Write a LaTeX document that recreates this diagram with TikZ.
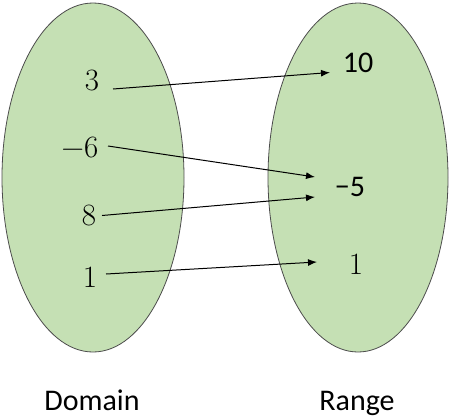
\documentclass[tikz,border=0pt]{standalone}
\usepackage{fontspec}
\newfontfamily\labelfont{Carlito}
\usetikzlibrary{calc,arrows.meta}
\definecolor{setgreen}{HTML}{C5E0B4}

\begin{document}
\begin{tikzpicture}[x=1pt,y=-1pt,
		set/.style={draw=black!70,line width=0.8pt,fill=setgreen},
		elem/.style={inner sep=0pt,font=\rmfamily\fontsize{31}{36}\selectfont},
		selem/.style={inner sep=0pt,font=\labelfont\fontsize{30}{36}\selectfont},
		maparrow/.style={-{Latex[length=9pt,width=7pt]},line width=1pt}]
		\useasboundingbox (0,0) rectangle (450,416);
		
		%the two sets
		\draw[set] (93,177.5) ellipse [x radius=91, y radius=174.5];
		\draw[set] (358,177.5) ellipse [x radius=90, y radius=174.5];
		
		%domain elements
		\node[elem] (d3) at (92,80.5) {3};
		\node[elem] (dm6) at (80,147) {−6};
		\node[elem] (d8) at (89,215.5) {8};
		\node[elem] (d1) at (90,277) {1};
		
		%range elements
		\node[selem] (r10) at (358,62.5) {10};
		\node[selem] (rm5) at (350,187) {−5};
		\node[elem] (r1) at (356,264) {1};
		
		%mapping
		\draw[maparrow] ($(d3)+(21,8.5)$) -- ($(r10)+(-28,10)$);
		\draw[maparrow] ($(dm6)+(28,-1)$) -- ($(rm5)+(-35,-10)$);
		\draw[maparrow] ($(d8)+(13,0)$) -- ($(rm5)+(-35,10)$);
		\draw[maparrow] ($(d1)+(16,-3)$) -- ($(r1)+(-39,-2)$);
		
		%captions
		\node[selem,anchor=base] (dom) at (92,410) {Domain};
		\node[selem,anchor=base] (ran) at (357,410) {Range};
		
	\end{tikzpicture}
\end{document}
